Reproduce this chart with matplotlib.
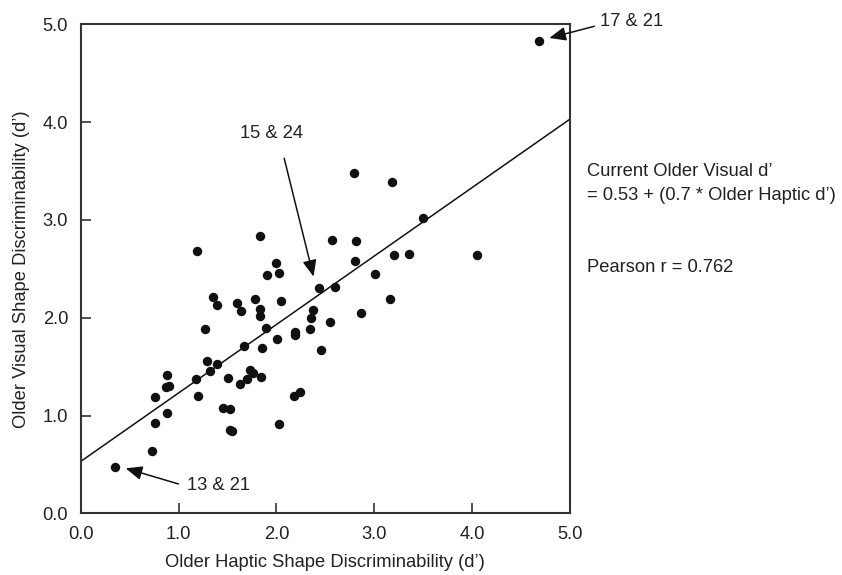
import matplotlib
matplotlib.use("Agg")
import matplotlib.pyplot as plt
import numpy as np

plt.rcParams["font.family"] = ["Liberation Sans", "DejaVu Sans"]

# older participants: haptic d' vs visual d'
haptic = [1.19, 1.83, 2.00, 1.90, 2.03, 2.57, 2.81, 2.79, 3.18, 2.80,
          3.01, 3.20, 3.36, 2.44, 2.60, 3.50, 4.68, 4.05, 1.35, 1.39,
          1.60, 1.64, 1.78, 1.83, 1.83, 2.05, 3.16, 2.87, 2.55, 2.37,
          2.35, 2.34, 2.19, 2.19, 2.46, 2.01, 1.89, 1.85, 1.67, 1.27,
          1.29, 1.39, 1.32, 1.18, 1.20, 1.51, 1.63, 1.70, 1.73, 1.76,
          1.84, 1.45, 1.53, 1.53, 1.55, 2.03, 2.18, 2.24, 0.88, 0.87,
          0.90, 0.76, 0.88, 0.76, 0.73, 0.35]
visual = [2.68, 2.84, 2.56, 2.44, 2.46, 2.79, 2.78, 3.48, 3.39, 2.58,
          2.45, 2.64, 2.65, 2.30, 2.31, 3.02, 4.83, 2.64, 2.21, 2.13,
          2.15, 2.07, 2.19, 2.09, 2.02, 2.17, 2.19, 2.05, 1.96, 2.08,
          2.00, 1.88, 1.85, 1.82, 1.67, 1.78, 1.89, 1.69, 1.71, 1.88,
          1.56, 1.53, 1.46, 1.37, 1.20, 1.38, 1.32, 1.37, 1.47, 1.43,
          1.39, 1.08, 1.07, 0.85, 0.84, 0.91, 1.20, 1.24, 1.41, 1.29,
          1.30, 1.19, 1.03, 0.92, 0.64, 0.47]

intercept, slope = 0.53, 0.7
pearson_r = 0.762
ticks = [0.0, 1.0, 2.0, 3.0, 4.0, 5.0]

FS = 13.2
INK = "#222222"

fig = plt.figure(figsize=(8.42, 5.75), dpi=100)
ax = fig.add_axes([0.0958, 0.1073, 0.581, 0.8504])

ax.plot(haptic, visual, "o", color="#111111", markersize=6.8, markeredgewidth=0, zorder=3)

fit_x = np.array([0.0, 5.0])
ax.plot(fit_x, intercept + slope * fit_x, color="#111111", linewidth=1.1, zorder=2)

ax.set_xlim(0, 5)
ax.set_ylim(0, 5)
ax.set_xticks(ticks)
ax.set_yticks(ticks)
ax.set_xticklabels([f"{t:.1f}" for t in ticks])
ax.set_yticklabels([f"{t:.1f}" for t in ticks])
ax.tick_params(direction="in", length=7, width=1.2, color="#333333",
               labelsize=FS, labelcolor=INK)
ax.tick_params(axis="x", pad=9)
ax.tick_params(axis="y", pad=9)
for s in ax.spines.values():
    s.set_linewidth(1.5)
    s.set_color("#333333")

ax.set_xlabel("Older Haptic Shape Discriminability (d\u2019)", fontsize=FS,
              color=INK, labelpad=8)
ax.set_ylabel("Older Visual Shape Discriminability (d\u2019)", fontsize=FS,
              color=INK, labelpad=9)

arrow = dict(arrowstyle="-|>,head_length=1.0,head_width=0.42", color="#111111",
             linewidth=1.1, shrinkA=0, shrinkB=0)

ax.text(1.955, 3.88, "15 & 24", fontsize=FS, ha="center", va="center", color=INK)
ax.annotate("", xy=(2.38, 2.42), xytext=(2.08, 3.63), arrowprops=arrow)

ax.text(1.41, 0.28, "13 & 21", fontsize=FS, ha="center", va="center", color=INK)
ax.annotate("", xy=(0.46, 0.46), xytext=(1.00, 0.30), arrowprops=arrow)

ax.text(5.31, 5.03, "17 & 21", fontsize=FS, ha="left", va="center",
        color=INK, clip_on=False)
ax.annotate("", xy=(4.79, 4.86), xytext=(5.25, 4.98), arrowprops=arrow,
            annotation_clip=False)

fig.text(586.7 / 842, 1 - 172 / 575, "Current Older Visual d\u2019", fontsize=FS,
         ha="left", va="center", color=INK)
fig.text(586.7 / 842, 1 - 195 / 575,
         f"= {intercept:.2f} + ({slope} * Older Haptic d\u2019)", fontsize=FS,
         ha="left", va="center", color=INK)
fig.text(586.7 / 842, 1 - 268 / 575, f"Pearson r = {pearson_r}", fontsize=FS,
         ha="left", va="center", color=INK)

fig.savefig("out.png", dpi=100)
